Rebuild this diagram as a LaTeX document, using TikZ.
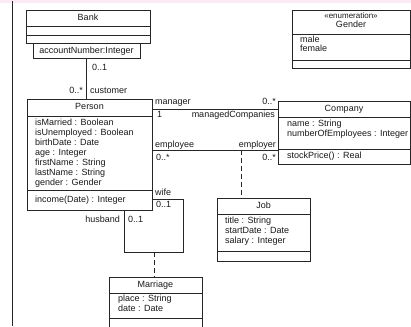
\documentclass[tikz,border=0pt]{standalone}
\usepackage{fontspec}
\setmainfont{Liberation Sans}
\definecolor{linec}{HTML}{262626}
\definecolor{topband}{HTML}{FBE9F5}
\tikzset{
  umlbox/.style={draw=linec, line width=0.8pt, inner sep=0pt, outer sep=0pt, anchor=north west, fill=white},
  lbl/.style={inner sep=0pt, font=\fontsize{9}{10}\selectfont, text height=6.4pt, text depth=1.8pt, text=black!90},
  att/.style={lbl, anchor=west},
  attr/.style={lbl, anchor=east},
  ttl/.style={lbl, anchor=center},
  sep/.style={draw=linec, line width=0.8pt},
  assoc/.style={draw=linec, line width=0.8pt},
  dep/.style={draw=linec, line width=0.8pt, dash pattern=on 5pt off 3pt}
}
\begin{document}
\begin{tikzpicture}[x=1pt,y=-1pt]
\useasboundingbox (0,0) rectangle (411,326);
\clip (0,0) rectangle (411,326);
\fill[topband] (0,0) rectangle (411,3);
\draw[assoc] (12,1) -- (12,326);

% ---------- Bank ----------
\node[umlbox, minimum width=124pt, minimum height=33pt] (bank) at (26,10) {};
\draw[sep] (26,26) -- (150,26);
\draw[sep] (26,35.5) -- (150,35.5);
\node[ttl] (bankname) at (88,18.5) {Bank};
\node[umlbox, minimum width=107pt, minimum height=15.5pt] (qual) at (33,43) {};
\node[ttl] (qualtxt) at (86.5,51) {accountNumber:Integer};

% ---------- Person ----------
\node[umlbox, minimum width=125pt, minimum height=111pt] (person) at (27,99) {};
\draw[sep] (27,116) -- (152,116);
\draw[sep] (27,190) -- (152,190);
\node[ttl] (personname) at (89.5,107.5) {Person};
\node[att] (pa1) at (35,123) {isMarried : Boolean};
\node[att] (pa2) at (35,133) {isUnemployed : Boolean};
\node[att] (pa3) at (35,143) {birthDate : Date};
\node[att] (pa4) at (35,153) {age : Integer};
\node[att] (pa5) at (35,163) {firstName : String};
\node[att] (pa6) at (35,173) {lastName : String};
\node[att] (pa7) at (35,183) {gender : Gender};
\node[att] (po1) at (35,200) {income(Date) : Integer};

% ---------- Company ----------
\node[umlbox, minimum width=132pt, minimum height=63pt] (company) at (278,101) {};
\draw[sep] (278,117) -- (410,117);
\draw[sep] (278,149) -- (410,149);
\node[ttl] (companyname) at (344,109) {Company};
\node[att] (ca1) at (287,124) {name : String};
\node[att] (ca2) at (287,134) {numberOfEmployees : Integer};
\node[att] (co1) at (287,156) {stockPrice() : Real};

% ---------- Gender ----------
\node[umlbox, minimum width=118pt, minimum height=58pt] (gender) at (292,10) {};
\draw[sep] (292,34) -- (410,34);
\draw[sep] (292,60) -- (410,60);
\node[ttl, font=\fontsize{8}{9}\selectfont] (genderst) at (351,16) {«enumeration»};
\node[ttl] (gendername) at (351,25) {Gender};
\node[inner sep=0pt, anchor=north west, align=left, text=black!90,
      font=\fontsize{9}{8.8}\selectfont] (glits) at (300,36) {male\\female};

% ---------- Job ----------
\node[umlbox, minimum width=93pt, minimum height=63pt] (job) at (217,198) {};
\draw[sep] (217,214) -- (310,214);
\draw[sep] (217,251) -- (310,251);
\node[ttl] (jobname) at (263.5,206.5) {Job};
\node[att] (ja1) at (225,221) {title : String};
\node[att] (ja2) at (225,231) {startDate : Date};
\node[att] (ja3) at (225,241) {salary : Integer};

% ---------- Marriage ----------
\node[umlbox, minimum width=93pt, minimum height=60pt] (marriage) at (109,277) {};
\draw[sep] (109,293) -- (202,293);
\draw[sep] (109,318) -- (202,318);
\node[ttl] (marname) at (155.5,285.5) {Marriage};
\node[att] (ma1) at (118,299) {place : String};
\node[att] (ma2) at (118,309) {date : Date};

% ---------- Associations ----------
% Bank - Person
\draw[assoc] (qual.south) -- (qual.south |- person.north);
\node[att] (l1) at (92,68) {0..1};
\node[attr] (l2) at (83,91) {0..*};
\node[att] (l3) at (90,91) {customer};

% manager
\coordinate (mgr) at (0,109);
\draw[assoc] (person.east |- mgr) -- (company.west |- mgr);
\node[att] (l4) at (155,102) {manager};
\node[att] (l5) at (157,115) {1};
\node[attr] (l6) at (276,102) {0..*};
\node[attr] (l7) at (275,115) {managedCompanies};

% employee
\coordinate (emp) at (0,150);
\draw[assoc] (person.east |- emp) -- (company.west |- emp);
\node[att] (l8) at (155,145) {employee};
\node[att] (l9) at (156,158) {0..*};
\node[attr] (l10) at (276,145) {employer};
\node[attr] (l11) at (276,158) {0..*};
\coordinate (jobc) at (241.7,150);
\draw[dep] (jobc) -- (jobc |- job.north);

% marriage self-association
\coordinate (wy) at (0,199);
\coordinate (lc) at (183,252);
\coordinate (hx) at (124,0);
\draw[assoc] (person.east |- wy) -| (lc) -| (hx |- person.south);
\node[att] (l12) at (155,193) {wife};
\node[att] (l13) at (156,205) {0..1};
\node[attr] (l14) at (120,220) {husband};
\node[att] (l15) at (128,220) {0..1};
\coordinate (mc) at (154,252);
\draw[dep] (mc) -- (mc |- marriage.north);
\end{tikzpicture}
\end{document}
